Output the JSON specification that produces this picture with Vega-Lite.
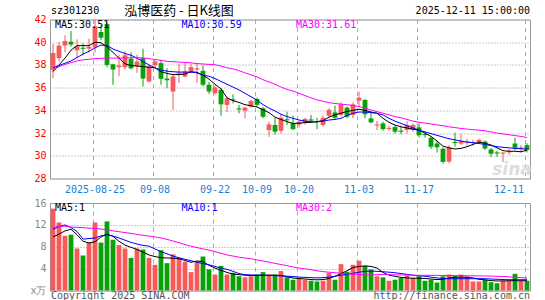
{
"$schema": "https://vega.github.io/schema/vega-lite/v6.json",
"autosize": {"type": "pad"},
"padding": {"left": 29, "top": 3.5, "right": 15, "bottom": 0},
"background": "white",
"config": {
  "view": {"stroke": "#999999", "strokeWidth": 1},
  "axis": {"domain": false, "ticks": false, "labelFont": "DejaVu Sans Mono", "labelFontSize": 10, "gridColor": "#aaaaaa", "gridOpacity": 1, "gridWidth": 1, "labelOverlap": false, "labelBound": false},
  "text": {"font": "DejaVu Sans Mono", "fontSize": 10, "baseline": "middle"},
  "line": {"strokeWidth": 1}
},
"bounds": "flush",
"spacing": 24.5,
"resolve": {"scale": {"x": "independent", "y": "independent"}},
"datasets": {"k": [
{"d":"2025-08-14","o":37.57,"c":39.05,"h":39.84,"l":36.84,"v":14.97,"m5":37.4,"m10":37.75,"m30":37.55,"vm5":9.8,"vm10":11.2,"vm30":11.5},
{"d":"2025-08-15","o":38.6,"c":39.7,"h":40.0,"l":38.3,"v":12.44,"m5":38.0,"m10":37.95,"m30":37.85,"vm5":10.3,"vm10":11.7,"vm30":11.75},
{"d":"2025-08-18","o":39.7,"c":40.1,"h":40.6,"l":39.1,"v":10.0,"m5":38.6,"m10":38.15,"m30":38.05,"vm5":10.9,"vm10":12.0,"vm30":11.75},
{"d":"2025-08-19","o":40.05,"c":39.8,"h":41.0,"l":39.6,"v":10.2,"m5":39.3,"m10":38.35,"m30":38.2,"vm5":11.2,"vm10":11.5,"vm30":11.6},
{"d":"2025-08-20","o":39.3,"c":39.65,"h":40.25,"l":38.65,"v":7.68,"m5":39.7,"m10":38.65,"m30":38.35,"vm5":10.2,"vm10":10.8,"vm30":11.55},
{"d":"2025-08-21","o":39.52,"c":39.42,"h":39.9,"l":38.85,"v":6.4,"m5":39.7,"m10":38.95,"m30":38.45,"vm5":9.0,"vm10":9.4,"vm30":11.5},
{"d":"2025-08-22","o":39.43,"c":39.6,"h":40.3,"l":39.1,"v":8.76,"m5":39.7,"m10":39.2,"m30":38.5,"vm5":8.7,"vm10":9.5,"vm30":11.4},
{"d":"2025-08-25","o":39.6,"c":41.4,"h":42.0,"l":39.1,"v":12.44,"m5":40.0,"m10":39.5,"m30":38.55,"vm5":8.9,"vm10":9.6,"vm30":11.35},
{"d":"2025-08-26","o":40.9,"c":40.4,"h":41.5,"l":40.2,"v":8.76,"m5":39.95,"m10":39.75,"m30":38.58,"vm5":9.8,"vm10":10.0,"vm30":11.25},
{"d":"2025-08-27","o":41.6,"c":38.0,"h":41.8,"l":37.8,"v":12.63,"m5":39.6,"m10":39.7,"m30":38.6,"vm5":10.3,"vm10":10.2,"vm30":11.1},
{"d":"2025-08-28","o":38.05,"c":37.6,"h":38.1,"l":36.25,"v":9.26,"m5":39.1,"m10":39.4,"m30":38.6,"vm5":9.9,"vm10":9.95,"vm30":10.9},
{"d":"2025-08-29","o":37.8,"c":37.95,"h":38.9,"l":37.0,"v":8.3,"m5":38.6,"m10":39.2,"m30":38.6,"vm5":9.0,"vm10":9.6,"vm30":10.75},
{"d":"2025-09-01","o":37.8,"c":38.85,"h":39.2,"l":37.6,"v":7.68,"m5":38.1,"m10":39.0,"m30":38.62,"vm5":8.3,"vm10":9.2,"vm30":10.6},
{"d":"2025-09-02","o":38.55,"c":37.7,"h":39.1,"l":37.6,"v":5.96,"m5":37.95,"m10":38.85,"m30":38.63,"vm5":7.9,"vm10":8.8,"vm30":10.45},
{"d":"2025-09-03","o":37.9,"c":38.3,"h":38.9,"l":37.3,"v":7.68,"m5":37.9,"m10":38.6,"m30":38.63,"vm5":7.5,"vm10":8.5,"vm30":10.25},
{"d":"2025-09-04","o":38.6,"c":36.8,"h":39.43,"l":36.1,"v":7.49,"m5":37.85,"m10":38.3,"m30":38.62,"vm5":7.0,"vm10":8.25,"vm30":10.1},
{"d":"2025-09-05","o":36.54,"c":37.87,"h":38.0,"l":36.45,"v":5.96,"m5":37.8,"m10":38.0,"m30":38.55,"vm5":6.5,"vm10":8.1,"vm30":9.95},
{"d":"2025-09-08","o":37.96,"c":38.31,"h":38.46,"l":37.8,"v":4.7,"m5":37.75,"m10":37.75,"m30":38.48,"vm5":6.2,"vm10":7.6,"vm30":9.8},
{"d":"2025-09-09","o":38.16,"c":36.78,"h":38.46,"l":36.25,"v":7.36,"m5":37.4,"m10":37.55,"m30":38.4,"vm5":6.0,"vm10":7.1,"vm30":9.6},
{"d":"2025-09-10","o":36.8,"c":36.65,"h":37.72,"l":35.95,"v":5.0,"m5":37.25,"m10":37.45,"m30":38.32,"vm5":5.95,"vm10":6.7,"vm30":9.35},
{"d":"2025-09-11","o":35.66,"c":36.98,"h":37.2,"l":34.03,"v":6.6,"m5":37.15,"m10":37.4,"m30":38.28,"vm5":5.9,"vm10":6.3,"vm30":9.05},
{"d":"2025-09-12","o":37.22,"c":37.32,"h":38.08,"l":36.39,"v":5.96,"m5":37.15,"m10":37.37,"m30":38.25,"vm5":5.8,"vm10":6.0,"vm30":8.75},
{"d":"2025-09-15","o":36.98,"c":37.43,"h":38.16,"l":36.9,"v":5.27,"m5":37.2,"m10":37.37,"m30":38.22,"vm5":5.5,"vm10":5.7,"vm30":8.4},
{"d":"2025-09-16","o":37.43,"c":37.81,"h":38.1,"l":37.3,"v":3.36,"m5":37.4,"m10":37.37,"m30":38.18,"vm5":5.15,"vm10":5.45,"vm30":8.1},
{"d":"2025-09-17","o":37.6,"c":37.7,"h":38.16,"l":36.39,"v":5.33,"m5":37.35,"m10":37.3,"m30":38.12,"vm5":5.4,"vm10":5.2,"vm30":7.85},
{"d":"2025-09-18","o":37.48,"c":36.25,"h":37.96,"l":36.1,"v":6.22,"m5":37.1,"m10":37.1,"m30":38.08,"vm5":5.3,"vm10":4.9,"vm30":7.6},
{"d":"2025-09-19","o":36.25,"c":35.66,"h":36.5,"l":35.45,"v":3.87,"m5":36.75,"m10":37.0,"m30":38.05,"vm5":4.6,"vm10":4.7,"vm30":7.4},
{"d":"2025-09-22","o":35.51,"c":36.01,"h":36.2,"l":35.4,"v":2.92,"m5":36.3,"m10":36.8,"m30":38.02,"vm5":4.1,"vm10":4.4,"vm30":7.1},
{"d":"2025-09-23","o":35.81,"c":34.53,"h":35.95,"l":33.53,"v":4.5,"m5":35.9,"m10":36.55,"m30":37.9,"vm5":3.7,"vm10":4.1,"vm30":6.8},
{"d":"2025-09-24","o":34.48,"c":35.06,"h":35.2,"l":33.83,"v":2.92,"m5":35.1,"m10":36.3,"m30":37.75,"vm5":3.3,"vm10":3.87,"vm30":6.5},
{"d":"2025-09-25","o":34.98,"c":34.88,"h":35.42,"l":34.62,"v":3.24,"m5":34.85,"m10":36.05,"m30":37.65,"vm5":3.0,"vm10":3.5,"vm30":6.3},
{"d":"2025-09-26","o":34.18,"c":34.08,"h":34.48,"l":33.73,"v":2.6,"m5":34.7,"m10":35.8,"m30":37.5,"vm5":2.9,"vm10":3.1,"vm30":6.1},
{"d":"2025-09-29","o":33.97,"c":34.24,"h":34.3,"l":33.3,"v":2.41,"m5":34.5,"m10":35.5,"m30":37.3,"vm5":2.8,"vm10":2.9,"vm30":5.95},
{"d":"2025-09-30","o":34.33,"c":34.83,"h":34.95,"l":34.25,"v":2.6,"m5":34.4,"m10":35.2,"m30":37.13,"vm5":2.73,"vm10":2.85,"vm30":5.8},
{"d":"2025-10-09","o":35.0,"c":34.48,"h":35.12,"l":34.33,"v":2.92,"m5":34.3,"m10":34.9,"m30":36.95,"vm5":2.75,"vm10":2.82,"vm30":5.6},
{"d":"2025-10-10","o":34.18,"c":33.44,"h":34.3,"l":33.3,"v":3.36,"m5":34.05,"m10":34.5,"m30":36.7,"vm5":2.78,"vm10":2.8,"vm30":5.4},
{"d":"2025-10-13","o":32.27,"c":32.76,"h":33.0,"l":31.67,"v":2.92,"m5":33.8,"m10":34.2,"m30":36.5,"vm5":2.8,"vm10":2.75,"vm30":5.2},
{"d":"2025-10-14","o":32.71,"c":32.12,"h":33.35,"l":31.87,"v":2.92,"m5":33.4,"m10":33.95,"m30":36.3,"vm5":2.8,"vm10":2.7,"vm30":4.95},
{"d":"2025-10-15","o":32.2,"c":33.35,"h":33.7,"l":31.96,"v":3.55,"m5":33.2,"m10":33.65,"m30":36.05,"vm5":2.75,"vm10":2.68,"vm30":4.75},
{"d":"2025-10-16","o":33.22,"c":33.12,"h":33.88,"l":32.71,"v":2.41,"m5":33.0,"m10":33.45,"m30":35.85,"vm5":2.5,"vm10":2.62,"vm30":4.55},
{"d":"2025-10-17","o":32.85,"c":32.35,"h":33.55,"l":32.25,"v":1.97,"m5":32.85,"m10":33.3,"m30":35.7,"vm5":2.28,"vm10":2.55,"vm30":4.3},
{"d":"2025-10-20","o":32.76,"c":33.0,"h":33.1,"l":32.5,"v":2.28,"m5":32.87,"m10":33.15,"m30":35.5,"vm5":2.2,"vm10":2.45,"vm30":4.1},
{"d":"2025-10-21","o":32.94,"c":33.24,"h":33.35,"l":32.75,"v":1.97,"m5":32.92,"m10":33.05,"m30":35.3,"vm5":2.1,"vm10":2.4,"vm30":3.95},
{"d":"2025-10-22","o":33.2,"c":33.1,"h":33.6,"l":32.9,"v":1.78,"m5":32.95,"m10":33.0,"m30":35.1,"vm5":2.0,"vm10":2.35,"vm30":3.8},
{"d":"2025-10-23","o":33.05,"c":32.95,"h":33.35,"l":32.35,"v":1.65,"m5":33.0,"m10":33.0,"m30":34.92,"vm5":1.95,"vm10":2.3,"vm30":3.6},
{"d":"2025-10-24","o":32.71,"c":33.35,"h":33.55,"l":32.55,"v":1.78,"m5":33.1,"m10":33.05,"m30":34.8,"vm5":2.0,"vm10":2.35,"vm30":3.45},
{"d":"2025-10-27","o":33.53,"c":34.04,"h":34.2,"l":33.35,"v":3.24,"m5":33.4,"m10":33.15,"m30":34.68,"vm5":2.2,"vm10":2.45,"vm30":3.35},
{"d":"2025-10-28","o":33.82,"c":33.35,"h":34.42,"l":33.25,"v":1.97,"m5":33.6,"m10":33.2,"m30":34.6,"vm5":2.6,"vm10":2.6,"vm30":3.25},
{"d":"2025-10-29","o":33.6,"c":34.53,"h":34.71,"l":33.45,"v":4.82,"m5":33.75,"m10":33.3,"m30":34.55,"vm5":3.1,"vm10":2.8,"vm30":3.15},
{"d":"2025-10-30","o":34.24,"c":33.44,"h":34.35,"l":33.3,"v":3.43,"m5":33.9,"m10":33.55,"m30":34.5,"vm5":3.6,"vm10":2.95,"vm30":3.07},
{"d":"2025-10-31","o":33.6,"c":34.53,"h":34.7,"l":33.3,"v":4.7,"m5":34.0,"m10":33.75,"m30":34.42,"vm5":4.2,"vm10":3.15,"vm30":3.0},
{"d":"2025-11-03","o":34.86,"c":35.12,"h":35.65,"l":34.33,"v":5.46,"m5":34.1,"m10":33.85,"m30":34.33,"vm5":4.4,"vm10":3.35,"vm30":2.95},
{"d":"2025-11-04","o":34.92,"c":33.65,"h":35.0,"l":33.29,"v":4.5,"m5":34.0,"m10":33.85,"m30":34.2,"vm5":4.5,"vm10":3.5,"vm30":2.85},
{"d":"2025-11-05","o":33.29,"c":32.94,"h":33.88,"l":32.85,"v":3.87,"m5":33.85,"m10":33.8,"m30":34.03,"vm5":4.4,"vm10":3.55,"vm30":2.85},
{"d":"2025-11-06","o":32.66,"c":32.76,"h":33.06,"l":32.27,"v":2.6,"m5":33.75,"m10":33.75,"m30":33.88,"vm5":4.1,"vm10":3.5,"vm30":2.9},
{"d":"2025-11-07","o":32.85,"c":32.35,"h":33.0,"l":32.2,"v":2.41,"m5":33.3,"m10":33.6,"m30":33.75,"vm5":3.3,"vm10":3.43,"vm30":2.92},
{"d":"2025-11-10","o":32.36,"c":32.46,"h":32.65,"l":32.2,"v":1.78,"m5":32.95,"m10":33.3,"m30":33.6,"vm5":2.8,"vm10":3.35,"vm30":2.9},
{"d":"2025-11-11","o":32.53,"c":32.12,"h":32.7,"l":31.95,"v":1.97,"m5":32.7,"m10":33.05,"m30":33.45,"vm5":2.6,"vm10":3.25,"vm30":2.88},
{"d":"2025-11-12","o":32.22,"c":32.12,"h":32.65,"l":31.9,"v":2.28,"m5":32.55,"m10":32.85,"m30":33.35,"vm5":2.4,"vm10":3.1,"vm30":2.85},
{"d":"2025-11-13","o":32.27,"c":32.71,"h":33.06,"l":31.95,"v":2.73,"m5":32.45,"m10":32.65,"m30":33.2,"vm5":2.3,"vm10":2.95,"vm30":2.82},
{"d":"2025-11-14","o":32.27,"c":32.71,"h":32.85,"l":32.1,"v":2.28,"m5":32.35,"m10":32.45,"m30":33.05,"vm5":2.25,"vm10":2.8,"vm30":2.8},
{"d":"2025-11-17","o":32.5,"c":31.82,"h":32.85,"l":31.6,"v":2.6,"m5":32.25,"m10":32.25,"m30":32.95,"vm5":2.25,"vm10":2.7,"vm30":2.78},
{"d":"2025-11-18","o":31.92,"c":31.82,"h":32.1,"l":31.6,"v":1.78,"m5":32.0,"m10":32.1,"m30":32.88,"vm5":2.2,"vm10":2.6,"vm30":2.78},
{"d":"2025-11-19","o":31.58,"c":30.79,"h":31.7,"l":30.6,"v":1.97,"m5":31.7,"m10":31.95,"m30":32.8,"vm5":2.1,"vm10":2.45,"vm30":2.77},
{"d":"2025-11-20","o":31.08,"c":30.75,"h":31.3,"l":30.28,"v":1.46,"m5":31.3,"m10":31.8,"m30":32.72,"vm5":2.0,"vm10":2.3,"vm30":2.76},
{"d":"2025-11-21","o":30.62,"c":29.46,"h":30.75,"l":29.31,"v":2.6,"m5":30.85,"m10":31.65,"m30":32.65,"vm5":2.05,"vm10":2.2,"vm30":2.75},
{"d":"2025-11-24","o":29.5,"c":30.72,"h":30.94,"l":29.35,"v":2.92,"m5":30.7,"m10":31.5,"m30":32.55,"vm5":2.3,"vm10":2.15,"vm30":2.74},
{"d":"2025-11-25","o":31.22,"c":31.12,"h":32.04,"l":30.79,"v":2.73,"m5":30.6,"m10":31.4,"m30":32.48,"vm5":2.4,"vm10":2.15,"vm30":2.73},
{"d":"2025-11-26","o":31.08,"c":31.29,"h":31.95,"l":30.95,"v":2.92,"m5":30.65,"m10":31.3,"m30":32.41,"vm5":2.45,"vm10":2.15,"vm30":2.72},
{"d":"2025-11-27","o":31.18,"c":31.28,"h":31.5,"l":30.9,"v":2.6,"m5":30.8,"m10":31.2,"m30":32.35,"vm5":2.4,"vm10":2.16,"vm30":2.7},
{"d":"2025-11-28","o":31.12,"c":31.22,"h":31.4,"l":30.9,"v":1.65,"m5":31.0,"m10":31.15,"m30":32.3,"vm5":2.3,"vm10":2.16,"vm30":2.68},
{"d":"2025-12-01","o":31.17,"c":31.4,"h":31.5,"l":31.1,"v":1.65,"m5":31.2,"m10":31.08,"m30":32.26,"vm5":2.05,"vm10":2.16,"vm30":2.67},
{"d":"2025-12-02","o":31.25,"c":30.64,"h":31.35,"l":30.5,"v":1.97,"m5":31.1,"m10":31.0,"m30":32.2,"vm5":1.95,"vm10":2.15,"vm30":2.66},
{"d":"2025-12-03","o":30.56,"c":30.18,"h":30.7,"l":29.9,"v":1.52,"m5":30.95,"m10":30.9,"m30":32.1,"vm5":1.8,"vm10":2.1,"vm30":2.63},
{"d":"2025-12-04","o":30.3,"c":30.2,"h":30.45,"l":29.9,"v":1.33,"m5":30.7,"m10":30.8,"m30":32.0,"vm5":1.75,"vm10":2.05,"vm30":2.6},
{"d":"2025-12-05","o":30.18,"c":30.28,"h":30.32,"l":29.45,"v":1.78,"m5":30.45,"m10":30.75,"m30":31.93,"vm5":1.75,"vm10":2.0,"vm30":2.56},
{"d":"2025-12-08","o":30.3,"c":30.4,"h":30.6,"l":30.1,"v":1.78,"m5":30.4,"m10":30.7,"m30":31.85,"vm5":1.78,"vm10":1.97,"vm30":2.5},
{"d":"2025-12-09","o":31.08,"c":30.7,"h":31.58,"l":30.5,"v":3.05,"m5":30.4,"m10":30.65,"m30":31.78,"vm5":1.8,"vm10":1.97,"vm30":2.42},
{"d":"2025-12-10","o":30.64,"c":30.74,"h":30.95,"l":30.3,"v":1.78,"m5":30.35,"m10":30.62,"m30":31.7,"vm5":1.78,"vm10":1.97,"vm30":2.35},
{"d":"2025-12-11","o":30.94,"c":30.51,"h":31.1,"l":30.3,"v":1.78,"m5":30.5,"m10":30.59,"m30":31.61,"vm5":1.8,"vm10":1.97,"vm30":2.28}
]},
"vconcat": [
{
 "width": 480, "height": 159,
 "layer": [
  {"data": {"name": "k"}, "mark": {"type": "rule", "strokeWidth": 1},
   "encoding": {
    "x": {"field": "d", "type": "ordinal", "title": null, "scale": {"type": "band", "paddingInner": 0.2, "paddingOuter": 0.1},
      "axis": {"values": ["2025-08-25","2025-09-08","2025-09-22","2025-10-09","2025-10-20","2025-11-03","2025-11-17","2025-12-11"],
        "grid": true, "gridDash": [4,4], "gridColor": "#aaaaaa", "bandPosition": 0.25, "labelAngle": 0, "labelColor": "#1a7fd6", "labelPadding": 6,
        "labelFlush": 6, "labelFlushOffset": -3, "labelOverlap": false, "tickCount": 20,
        "labelExpr": "datum.value == '2025-08-25' ? datum.value : substring(datum.value, 5)", "title": null}},
    "y": {"field": "l", "type": "quantitative", "title": null, "scale": {"domain": [28, 42], "nice": false, "zero": false},
      "axis": {"values": [28,30,32,34,36,38,40,42], "tickCount": 20, "format": "d", "grid": true, "gridDash": [1,2], "gridColor": "#999999", "labelColor": "#ff0000", "labelPadding": 4, "labelOverlap": false, "labelBound": false, "title": null}},
    "y2": {"field": "h"},
    "color": {"condition": {"test": "datum.c >= datum.o", "value": "#f65a5a"}, "value": "#0aa00a"}
   }},
  {"data": {"values": [{}]}, "mark": {"type": "text", "text": "sina", "font": "DejaVu Sans", "fontSize": 17, "fontStyle": "italic", "fontWeight": "bold", "color": "#dddddd", "align": "center", "dx": 3},
   "encoding": {"x": {"datum": "2025-12-08", "type": "ordinal", "title": null}, "y": {"datum": 28.75, "type": "quantitative", "title": null}}},
  {"data": {"name": "k"}, "mark": {"type": "bar"},
   "encoding": {
    "x": {"field": "d", "type": "ordinal", "title": null, "scale": {"type": "band", "paddingInner": 0.2, "paddingOuter": 0.1}},
    "y": {"field": "o", "type": "quantitative", "title": null, "scale": {"domain": [28, 42], "nice": false, "zero": false}},
    "y2": {"field": "c"},
    "color": {"condition": {"test": "datum.c >= datum.o", "value": "#f65a5a"}, "value": "#0aa00a"}
   }},
  {"data": {"name": "k"}, "mark": {"type": "line", "color": "#000000", "strokeWidth": 1},
   "encoding": {
    "x": {"field": "d", "type": "ordinal", "title": null, "scale": {"type": "band", "paddingInner": 0.2, "paddingOuter": 0.1}},
    "y": {"field": "m5", "type": "quantitative", "title": null, "scale": {"domain": [28, 42], "nice": false, "zero": false}}
   }},
  {"data": {"name": "k"}, "mark": {"type": "line", "color": "#0000ff", "strokeWidth": 1},
   "encoding": {
    "x": {"field": "d", "type": "ordinal", "title": null, "scale": {"type": "band", "paddingInner": 0.2, "paddingOuter": 0.1}},
    "y": {"field": "m10", "type": "quantitative", "title": null, "scale": {"domain": [28, 42], "nice": false, "zero": false}}
   }},
  {"data": {"name": "k"}, "mark": {"type": "line", "color": "#ff00ff", "strokeWidth": 1},
   "encoding": {
    "x": {"field": "d", "type": "ordinal", "title": null, "scale": {"type": "band", "paddingInner": 0.2, "paddingOuter": 0.1}},
    "y": {"field": "m30", "type": "quantitative", "title": null, "scale": {"domain": [28, 42], "nice": false, "zero": false}}
   }},
  {"data": {"values": [{}]}, "mark": {"type": "text", "text": "sz301230", "align": "left", "dx": -2, "color": "#000000"},
   "encoding": {"x": {"datum": "2025-08-14", "type": "ordinal", "title": null}, "y": {"datum": 42.75, "type": "quantitative", "title": null}}},
  {"data": {"values": [{}]}, "mark": {"type": "text", "text": "泓博医药 - 日K线图", "align": "center", "font": "Noto Sans CJK SC", "fontSize": 13, "color": "#000000"},
   "encoding": {"x": {"datum": "2025-09-12", "type": "ordinal", "title": null}, "y": {"datum": 42.75, "type": "quantitative", "title": null}}},
  {"data": {"values": [{}]}, "mark": {"type": "text", "text": "2025-12-11 15:00:00", "align": "right", "dx": 3, "color": "#000000"},
   "encoding": {"x": {"datum": "2025-12-11", "type": "ordinal", "title": null}, "y": {"datum": 42.75, "type": "quantitative", "title": null}}},
  {"data": {"values": [{}]}, "mark": {"type": "text", "text": "MA5:30.51", "align": "left", "dx": 2, "color": "#000000"},
   "encoding": {"x": {"datum": "2025-08-14", "type": "ordinal", "title": null}, "y": {"datum": 41.5, "type": "quantitative", "title": null}}},
  {"data": {"values": [{}]}, "mark": {"type": "text", "text": "MA10:30.59", "align": "left", "dx": 2.5, "color": "#0000ff"},
   "encoding": {"x": {"datum": "2025-09-12", "type": "ordinal", "title": null}, "y": {"datum": 41.5, "type": "quantitative", "title": null}}},
  {"data": {"values": [{}]}, "mark": {"type": "text", "text": "MA30:31.61", "align": "left", "dx": 3, "color": "#ff00ff"},
   "encoding": {"x": {"datum": "2025-10-17", "type": "ordinal", "title": null}, "y": {"datum": 41.5, "type": "quantitative", "title": null}}}
 ]
},
{
 "width": 480, "height": 87.5,
 "layer": [
  {"data": {"name": "k"}, "mark": {"type": "bar"},
   "encoding": {
    "x": {"field": "d", "type": "ordinal", "title": null, "scale": {"type": "band", "paddingInner": 0.2, "paddingOuter": 0.1},
      "axis": {"values": ["2025-08-25","2025-09-08","2025-09-22","2025-10-09","2025-10-20","2025-11-03","2025-11-17","2025-12-11"],
        "grid": true, "gridDash": [4,4], "gridColor": "#aaaaaa", "bandPosition": 0.25, "labels": false, "tickCount": 20, "title": null}},
    "y": {"field": "v", "type": "quantitative", "title": null, "scale": {"domain": [0, 16], "nice": false},
      "axis": {"values": [0,4,8,12,16], "tickCount": 20, "format": "d", "grid": true, "gridDash": [1,2], "gridColor": "#999999", "labelColor": "#888888", "labelPadding": 4, "labelOverlap": false, "labelBound": false,
        "labelExpr": "datum.value == 0 ? 'x万' : datum.label", "title": null}},
    "color": {"condition": {"test": "datum.c >= datum.o", "value": "#f65a5a"}, "value": "#0aa00a"}
   }},
  {"data": {"name": "k"}, "mark": {"type": "line", "color": "#000000", "strokeWidth": 1},
   "encoding": {
    "x": {"field": "d", "type": "ordinal", "title": null, "scale": {"type": "band", "paddingInner": 0.2, "paddingOuter": 0.1}},
    "y": {"field": "vm5", "type": "quantitative", "title": null, "scale": {"domain": [0, 16], "nice": false}}
   }},
  {"data": {"name": "k"}, "mark": {"type": "line", "color": "#0000ff", "strokeWidth": 1},
   "encoding": {
    "x": {"field": "d", "type": "ordinal", "title": null, "scale": {"type": "band", "paddingInner": 0.2, "paddingOuter": 0.1}},
    "y": {"field": "vm10", "type": "quantitative", "title": null, "scale": {"domain": [0, 16], "nice": false}}
   }},
  {"data": {"name": "k"}, "mark": {"type": "line", "color": "#ff00ff", "strokeWidth": 1},
   "encoding": {
    "x": {"field": "d", "type": "ordinal", "title": null, "scale": {"type": "band", "paddingInner": 0.2, "paddingOuter": 0.1}},
    "y": {"field": "vm30", "type": "quantitative", "title": null, "scale": {"domain": [0, 16], "nice": false}}
   }},
  {"data": {"values": [{}]}, "mark": {"type": "text", "text": "MA5:1", "align": "left", "dx": 2, "color": "#000000"},
   "encoding": {"x": {"datum": "2025-08-14", "type": "ordinal", "title": null}, "y": {"datum": 15.1, "type": "quantitative", "title": null}}},
  {"data": {"values": [{}]}, "mark": {"type": "text", "text": "MA10:1", "align": "left", "dx": 2.5, "color": "#0000ff"},
   "encoding": {"x": {"datum": "2025-09-12", "type": "ordinal", "title": null}, "y": {"datum": 15.1, "type": "quantitative", "title": null}}},
  {"data": {"values": [{}]}, "mark": {"type": "text", "text": "MA30:2", "align": "left", "dx": 3, "color": "#ff00ff"},
   "encoding": {"x": {"datum": "2025-10-17", "type": "ordinal", "title": null}, "y": {"datum": 15.1, "type": "quantitative", "title": null}}},
  {"data": {"values": [{}]}, "mark": {"type": "text", "text": "Copyright 2025 SINA.COM", "align": "left", "dx": -2, "color": "#555555"},
   "encoding": {"x": {"datum": "2025-08-14", "type": "ordinal", "title": null}, "y": {"datum": -1.05, "type": "quantitative", "title": null}}},
  {"data": {"values": [{}]}, "mark": {"type": "text", "text": "http://finance.sina.com.cn", "align": "right", "dx": 3, "color": "#555555"},
   "encoding": {"x": {"datum": "2025-12-11", "type": "ordinal", "title": null}, "y": {"datum": -1.05, "type": "quantitative", "title": null}}}
 ]
}
]
}
